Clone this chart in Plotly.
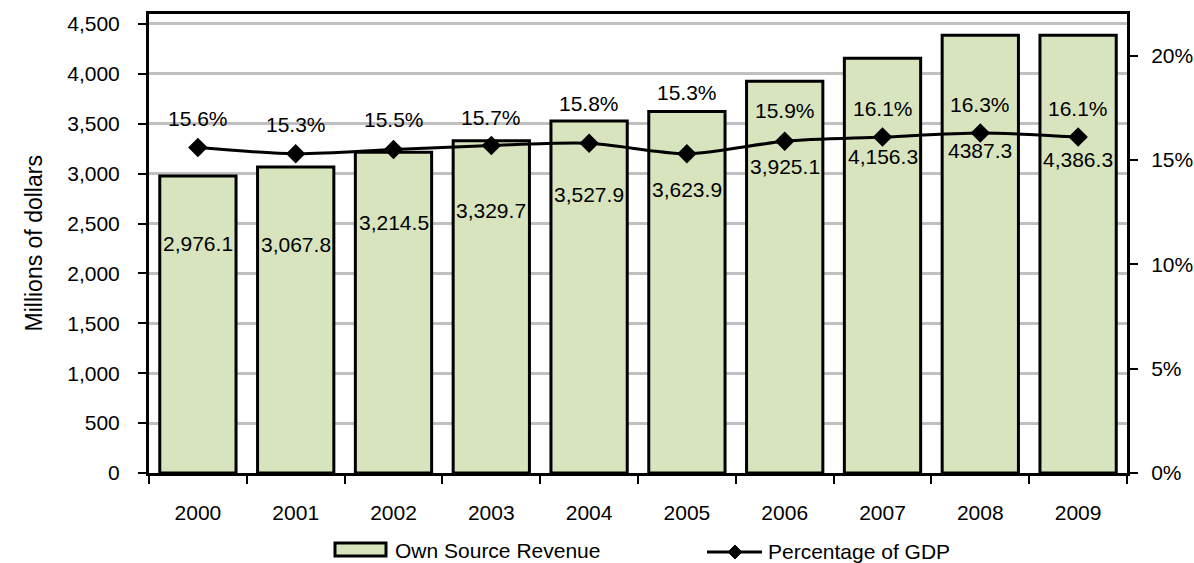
import plotly.graph_objects as go

# ---------------- data ----------------
years = ["2000", "2001", "2002", "2003", "2004", "2005", "2006", "2007", "2008", "2009"]
revenue = [2976.1, 3067.8, 3214.5, 3329.7, 3527.9, 3623.9, 3925.1, 4156.3, 4387.3, 4386.3]
revenue_labels = ["2,976.1", "3,067.8", "3,214.5", "3,329.7", "3,527.9",
                  "3,623.9", "3,925.1", "4,156.3", "4387.3", "4,386.3"]
gdp_pct = [15.6, 15.3, 15.5, 15.7, 15.8, 15.3, 15.9, 16.1, 16.3, 16.1]
left_ticks = [0, 500, 1000, 1500, 2000, 2500, 3000, 3500, 4000, 4500]
right_ticks = [0, 5, 10, 15, 20]
right_tick_text = ["0%", "5%", "10%", "15%", "20%"]

# category positions on the x scale
xpos = list(range(len(years)))
boundaries = [i - 0.5 for i in range(len(years) + 1)]

# ---------------- layout constants ----------------
W, H = 1194, 563
PL, PR, PT, PB = 149, 1127, 14, 473   # plot area in page pixels
FONT = "Liberation Sans, Arial, sans-serif"
FS = 21
BAR_FILL = "#d7e4bd"

# label pixel shifts (layout only)
value_label_shift = [-67, -78, -70, -70, -74, -78, -85, -98, -115, -124]
pct_label_shift = [29, 29, 30, 28, 40, 61, 31, 29, 28, 29]


def px_x(px):
    return (px - PL) / (PR - PL)


def px_y(py):
    return (PB - py) / (PB - PT)


fig = go.Figure()
fig.add_trace(go.Bar(
    x=xpos, y=revenue, name="Own Source Revenue",
    marker=dict(color=BAR_FILL, line=dict(color="black", width=3)),
    width=0.78, customdata=years, hovertemplate="%{customdata}: %{y:,.1f}<extra></extra>",
))
fig.add_trace(go.Scatter(
    x=xpos, y=gdp_pct, name="Percentage of GDP", yaxis="y2",
    mode="lines+markers",
    line=dict(color="black", width=3, shape="spline", smoothing=0.8),
    marker=dict(symbol="diamond", size=15, color="black"),
    customdata=years, hovertemplate="%{customdata}: %{y:.1f}%<extra></extra>",
))

annotations = []
for xi, v, lab, sh in zip(xpos, revenue, revenue_labels, value_label_shift):
    annotations.append(dict(x=xi, y=v, xref="x", yref="y", text=lab, showarrow=False,
                            yshift=sh, font=dict(size=FS, family=FONT, color="black")))
for xi, p, sh in zip(xpos, gdp_pct, pct_label_shift):
    annotations.append(dict(x=xi, y=p, xref="x", yref="y2", text=f"{p:.1f}%", showarrow=False,
                            yshift=sh, font=dict(size=FS, family=FONT, color="black")))

# axis title
annotations.append(dict(x=px_x(33), y=0.5, xref="paper", yref="paper", text="Millions of dollars",
                        textangle=-90, showarrow=False, xanchor="center", yanchor="middle",
                        font=dict(size=23, family=FONT, color="black")))
# custom legend texts
annotations.append(dict(x=px_x(393), y=px_y(550), xref="paper", yref="paper", text="Own Source Revenue",
                        showarrow=False, xanchor="left", yanchor="middle",
                        font=dict(size=FS, family=FONT, color="black")))
annotations.append(dict(x=px_x(766), y=px_y(551), xref="paper", yref="paper", text="Percentage of GDP",
                        showarrow=False, xanchor="left", yanchor="middle",
                        font=dict(size=FS, family=FONT, color="black")))

# custom legend swatches
dx, dy = 7 / (PR - PL), 7 / (PB - PT)
cx, cy = px_x(735), px_y(552)
shapes = [
    dict(type="rect", xref="paper", yref="paper", x0=px_x(335), x1=px_x(386),
         y0=px_y(556), y1=px_y(543), fillcolor=BAR_FILL, line=dict(color="black", width=3)),
    dict(type="line", xref="paper", yref="paper", x0=px_x(707), x1=px_x(762),
         y0=cy, y1=cy, line=dict(color="black", width=3)),
    dict(type="path", xref="paper", yref="paper",
         path=f"M {cx - dx} {cy} L {cx} {cy + dy} L {cx + dx} {cy} L {cx} {cy - dy} Z",
         fillcolor="black", line=dict(color="black", width=1)),
]

fig.update_layout(
    width=W, height=H,
    margin=dict(l=PL, r=W - PR, t=PT, b=H - PB, autoexpand=False),
    plot_bgcolor="white", paper_bgcolor="white",
    font=dict(family=FONT, size=FS, color="black"),
    showlegend=False,
    annotations=annotations,
    shapes=shapes,
    xaxis=dict(
        range=[-0.5, len(years) - 0.5], tickmode="array", tickvals=xpos, ticktext=years,
        showline=True, linecolor="black", linewidth=3, mirror=True,
        ticks="outside", ticklen=8, tickwidth=2, tickcolor="rgba(0,0,0,0)",
        ticklabelstandoff=11, showgrid=False, zeroline=False, tickfont=dict(size=FS),
        minor=dict(tickmode="array", tickvals=boundaries, ticks="outside", ticklen=8,
                   tickwidth=2, tickcolor="black", showgrid=False),
        fixedrange=True,
    ),
    yaxis=dict(
        range=[0, 4600], tickmode="array", tickvals=left_ticks, tickformat=",", showgrid=True,
        gridcolor="#c0c0c0", gridwidth=3, showline=True, linecolor="black", linewidth=3,
        ticks="outside", ticklen=8, tickwidth=2, tickcolor="black", ticklabelstandoff=14,
        zeroline=False, tickfont=dict(size=FS), automargin=False,
    ),
    yaxis2=dict(
        overlaying="y", side="right", range=[0, 22], tickmode="array", tickvals=right_ticks,
        ticktext=right_tick_text, showgrid=False, showline=True, linecolor="black", linewidth=3,
        ticks="outside", ticklen=8, tickwidth=2, tickcolor="black", ticklabelstandoff=9,
        zeroline=False, tickfont=dict(size=FS), automargin=False,
    ),
)

# remove the default page margin so the figure fills the window exactly
fig.write_html("out.html", config={"displayModeBar": False},
               post_script="document.body.style.margin='0';document.body.style.overflow='hidden';")
